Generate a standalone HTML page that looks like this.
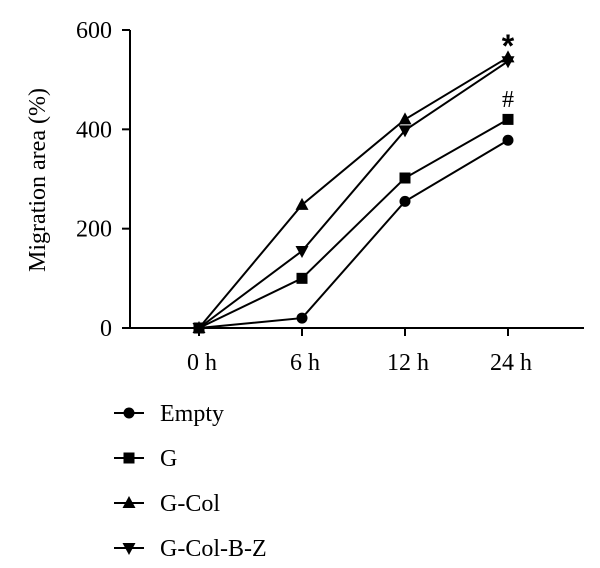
<!DOCTYPE html>
<html><head><meta charset="utf-8"><style>
body{margin:0;background:#fff;}
svg{display:block;font-family:"Liberation Serif",serif;}
</style></head><body>
<svg width="600" height="568">
<g id="axes"></g><g id="series"></g><g id="legend"></g>
</svg>
<script>
const categories=["0 h","6 h","12 h","24 h"];
const yTicks=[0,200,400,600];
const seriesNames=["Empty","G","G-Col","G-Col-B-Z"];
const emptyVals=[0,20,255,378];
const gVals=[0,100,302,420];
const gColVals=[0,248,420,545];
const gColBZVals=[0,155,398,537];
const markers=["circle","square","triUp","triDown"];
const allVals=[emptyVals,gVals,gColVals,gColBZVals];
const NS="http://www.w3.org/2000/svg";
function xs(i){return 199+103*i;}
function y(v){return 328-v*(298/600);}
function mk(t,a,p){const e=document.createElementNS(NS,t);for(const k in a)e.setAttribute(k,a[k]);p.appendChild(e);return e;}
const ax=document.getElementById('axes');
let e=mk('line',{x1:130,y1:y(600),x2:130,y2:329,stroke:'#000','stroke-width':2},ax);

e=mk('line',{x1:129,y1:328,x2:584,y2:328,stroke:'#000','stroke-width':2},ax);

yTicks.forEach(v=>{
 mk('line',{x1:122,x2:130,y1:y(v),y2:y(v),stroke:'#000','stroke-width':2},ax);
 const t=mk('text',{x:112,y:y(v)+8,'text-anchor':'end','font-size':24},ax);t.textContent=v;
 
});
categories.forEach((c,i)=>{
 mk('line',{x1:xs(i),x2:xs(i),y1:328,y2:336,stroke:'#000','stroke-width':2},ax);
 const t=mk('text',{x:xs(i)+3,y:370,'text-anchor':'middle','font-size':24},ax);t.textContent=c;
 
});
e=mk('text',{x:0,y:0,transform:'translate(45,180) rotate(-90)','text-anchor':'middle','font-size':24},ax);
e.textContent='Migration area (%)';

function marker(type,cx,cy,p){
 if(type=='circle')return mk('circle',{cx:cx,cy:cy,r:5.5,fill:'#000'},p);
 if(type=='square')return mk('rect',{x:cx-5.5,y:cy-5.5,width:11,height:11,fill:'#000'},p);
 if(type=='triUp')return mk('polygon',{points:`${cx},${cy-7} ${cx-6.5},${cy+5} ${cx+6.5},${cy+5}`,fill:'#000'},p);
 return mk('polygon',{points:`${cx},${cy+7} ${cx-6.5},${cy-5} ${cx+6.5},${cy-5}`,fill:'#000'},p);
}
const sg=document.getElementById('series');
allVals.forEach((vals,s)=>{
 const g=mk('g',{},sg);
 
 
 const l=mk('polyline',{points:vals.map((v,i)=>xs(i)+','+y(v)).join(' '),fill:'none',stroke:'#000','stroke-width':2},g);
 
 
 vals.forEach((v,i)=>{const m=marker(markers[s],xs(i),y(v),g);
  
  });
});
e=mk('text',{x:508,y:57,'text-anchor':'middle','font-size':32,'font-weight':'bold','font-family':'Liberation Sans'},sg);e.textContent='*';

e=mk('text',{x:508,y:107,'text-anchor':'middle','font-size':24},sg);e.textContent='#';

const lg=document.getElementById('legend');
seriesNames.forEach((n,s)=>{
 const yy=413+45*s;
 const g=mk('g',{},lg);
 
 
 mk('line',{x1:114,x2:144,y1:yy,y2:yy,stroke:'#000','stroke-width':2},g);
 marker(markers[s],129,yy,g);
 const t=mk('text',{x:160,y:yy+8,'font-size':24},g);t.textContent=n;
});
</script>
</body></html>
